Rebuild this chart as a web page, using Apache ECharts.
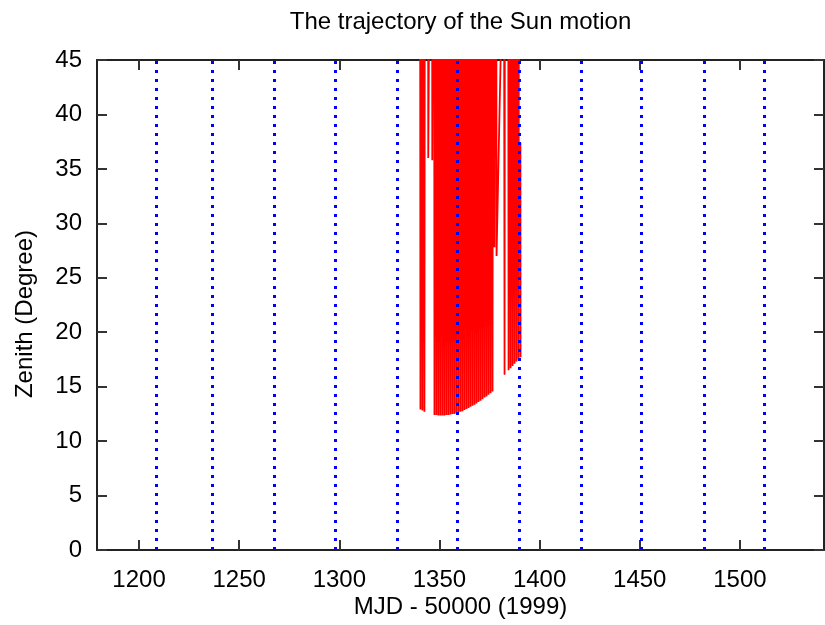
<!DOCTYPE html>
<html><head><meta charset="utf-8">
<script src="https://cdn.jsdelivr.net/npm/echarts@6/dist/echarts.min.js"></script>
<style>html,body{margin:0;padding:0;background:#fff}#c{width:825px;height:625px}</style>
</head><body><div id="c"></div>
<script>
const titleText = 'The trajectory of the Sun motion';
const xName = 'MJD - 50000 (1999)';
const yName = 'Zenith (Degree)';
const xTicks = [1200, 1250, 1300, 1350, 1400, 1450, 1500];
const yTicks = [0, 5, 10, 15, 20, 25, 30, 35, 40, 45];
const monthLines = [1208.6, 1236.6, 1267.7, 1298, 1328.8, 1359, 1390, 1421, 1451, 1482, 1512];

const sunMJD = [
  1340.2, 1340.5, 1340.8, 1341.2, 1341.5, 1341.8, 1342.2, 1342.5, 1342.8,
  1344.2, 1344.4, 1346.2, 1346.4,
  1347.2, 1347.5, 1347.8, 1348.2, 1348.5, 1348.8, 1349.2, 1349.5, 1349.8,
  1350.2, 1350.5, 1350.8, 1351.2, 1351.5, 1351.8, 1352.2, 1352.5, 1352.8,
  1353.2, 1353.5, 1353.8, 1354.2, 1354.5, 1354.8, 1355.2, 1355.5, 1355.8,
  1356.2, 1356.5, 1356.8, 1357.2, 1357.5, 1357.8, 1358.2, 1358.5, 1358.8,
  1359.2, 1359.5, 1359.8, 1360.2, 1360.5, 1360.8, 1361.2, 1361.5, 1361.8,
  1362.2, 1362.5, 1362.8, 1363.2, 1363.5, 1363.8, 1364.2, 1364.5, 1364.8,
  1365.2, 1365.5, 1365.8, 1366.2, 1366.5, 1366.8, 1367.2, 1367.5, 1367.8,
  1368.2, 1368.5, 1368.8, 1369.2, 1369.5, 1369.8, 1370.2, 1370.5, 1370.8,
  1371.2, 1371.5, 1371.8, 1372.2, 1372.5, 1372.8, 1373.2, 1373.5, 1373.8,
  1374.2, 1374.5, 1374.8, 1375.2, 1375.5, 1375.8, 1376.2, 1376.5, 1376.8,
  1377.2, 1377.45, 1378.2, 1378.5,
  1382.2, 1382.5, 1382.8,
  1384.2, 1384.5, 1384.8, 1385.2, 1385.5, 1385.8, 1386.2, 1386.5, 1386.8,
  1387.2, 1387.5, 1387.8, 1388.2, 1388.5, 1388.8, 1389.2, 1389.5, 1389.8,
  null, 1390.42, 1390.5
];
const sunZenith = [
  90, 12.9, 90, 90, 12.8, 90, 90, 12.7, 90,
  90, 36.0, 90, 35.8,
  90, 12.4, 90, 90, 12.4, 90, 90, 12.35, 90,
  90, 12.35, 90, 90, 12.35, 90, 90, 12.35, 90,
  90, 12.4, 90, 90, 12.4, 90, 90, 12.45, 90,
  90, 12.5, 90, 90, 12.5, 90, 90, 12.55, 90,
  90, 12.6, 90, 90, 12.7, 90, 90, 12.75, 90,
  90, 12.85, 90, 90, 12.95, 90, 90, 13.05, 90,
  90, 13.15, 90, 90, 13.25, 90, 90, 13.35, 90,
  90, 13.45, 90, 90, 13.6, 90, 90, 13.7, 90,
  90, 13.85, 90, 90, 14.0, 90, 90, 14.1, 90,
  90, 14.25, 90, 90, 14.4, 90, 90, 14.55, 90,
  90, 27.8, 90, 27.0,
  60, 16.1, 90,
  90, 16.5, 90, 90, 16.7, 90, 90, 16.9, 90,
  90, 17.1, 90, 90, 17.3, 90, 90, 17.5, 90,
  null, 37.4, 17.7
];

const FONT = 'Liberation Sans';
const FS = 24;
const sunData = sunMJD.map((x, i) => (x === null ? ['-', '-'] : [x, sunZenith[i]]));

const axisLineStyle = { color: '#222', width: 2 };
const tickStyle = { color: '#333', width: 2 };
const plain = v => String(v);

const chart = echarts.init(document.getElementById('c'), null, { renderer: 'canvas' });
chart.setOption({
  animation: false,
  backgroundColor: '#fff',
  grid: { left: 97, right: 1, top: 60, bottom: 75, containLabel: false },
  xAxis: [
    {
      type: 'value', min: 1179, max: 1542, position: 'bottom',
      splitLine: { show: false },
      axisLine: { show: true, onZero: false, lineStyle: axisLineStyle },
      axisTick: { show: true, inside: true, length: 10, lineStyle: tickStyle, customValues: xTicks },
      axisLabel: { show: true, customValues: xTicks, formatter: plain, margin: 18, color: '#000', fontFamily: FONT, fontSize: FS }
    },
    {
      type: 'value', min: 1179, max: 1542, position: 'top',
      splitLine: { show: false },
      axisLine: { show: true, onZero: false, lineStyle: axisLineStyle },
      axisTick: { show: true, inside: true, length: 10, lineStyle: tickStyle, customValues: xTicks },
      axisLabel: { show: false }
    }
  ],
  yAxis: [
    {
      type: 'value', min: 0, max: 45, interval: 5, position: 'left',
      splitLine: { show: false },
      axisLine: { show: true, onZero: false, lineStyle: axisLineStyle },
      axisTick: { show: true, inside: true, length: 10, lineStyle: tickStyle },
      axisLabel: { show: true, formatter: plain, margin: 15, color: '#000', fontFamily: FONT, fontSize: FS }
    },
    {
      type: 'value', min: 0, max: 45, interval: 5, position: 'right',
      splitLine: { show: false },
      axisLine: { show: true, onZero: false, lineStyle: axisLineStyle },
      axisTick: { show: true, inside: true, length: 10, lineStyle: tickStyle },
      axisLabel: { show: false }
    }
  ],
  graphic: [
    { type: 'text', x: 460.5, y: 22, style: { text: titleText, font: FS + 'px "' + FONT + '"', fill: '#000', textAlign: 'center', textVerticalAlign: 'middle', align: 'center', verticalAlign: 'middle' } },
    { type: 'text', x: 460.5, y: 607, style: { text: xName, font: FS + 'px "' + FONT + '"', fill: '#000', textAlign: 'center', textVerticalAlign: 'middle', align: 'center', verticalAlign: 'middle' } },
    { type: 'text', x: 25, y: 314, rotation: Math.PI / 2, style: { text: yName, font: FS + 'px "' + FONT + '"', fill: '#000', textAlign: 'center', textVerticalAlign: 'middle', align: 'center', verticalAlign: 'middle' } }
  ],
  series: [
    {
      type: 'line', xAxisIndex: 0, yAxisIndex: 0,
      data: sunData, showSymbol: false, symbol: 'none', clip: true, connectNulls: false,
      lineStyle: { color: '#ff0000', width: 1.8 }, z: 2, silent: true
    },
    {
      type: 'line', xAxisIndex: 0, yAxisIndex: 0, data: [], z: 3, silent: true,
      markLine: {
        silent: true, symbol: ['none', 'none'], animation: false,
        label: { show: false },
        lineStyle: { color: '#0000ff', width: 3, type: [3, 6], opacity: 1 },
        emphasis: { disabled: true },
        data: monthLines.map(v => ({ xAxis: v }))
      }
    }
  ]
});
</script>
</body></html>
